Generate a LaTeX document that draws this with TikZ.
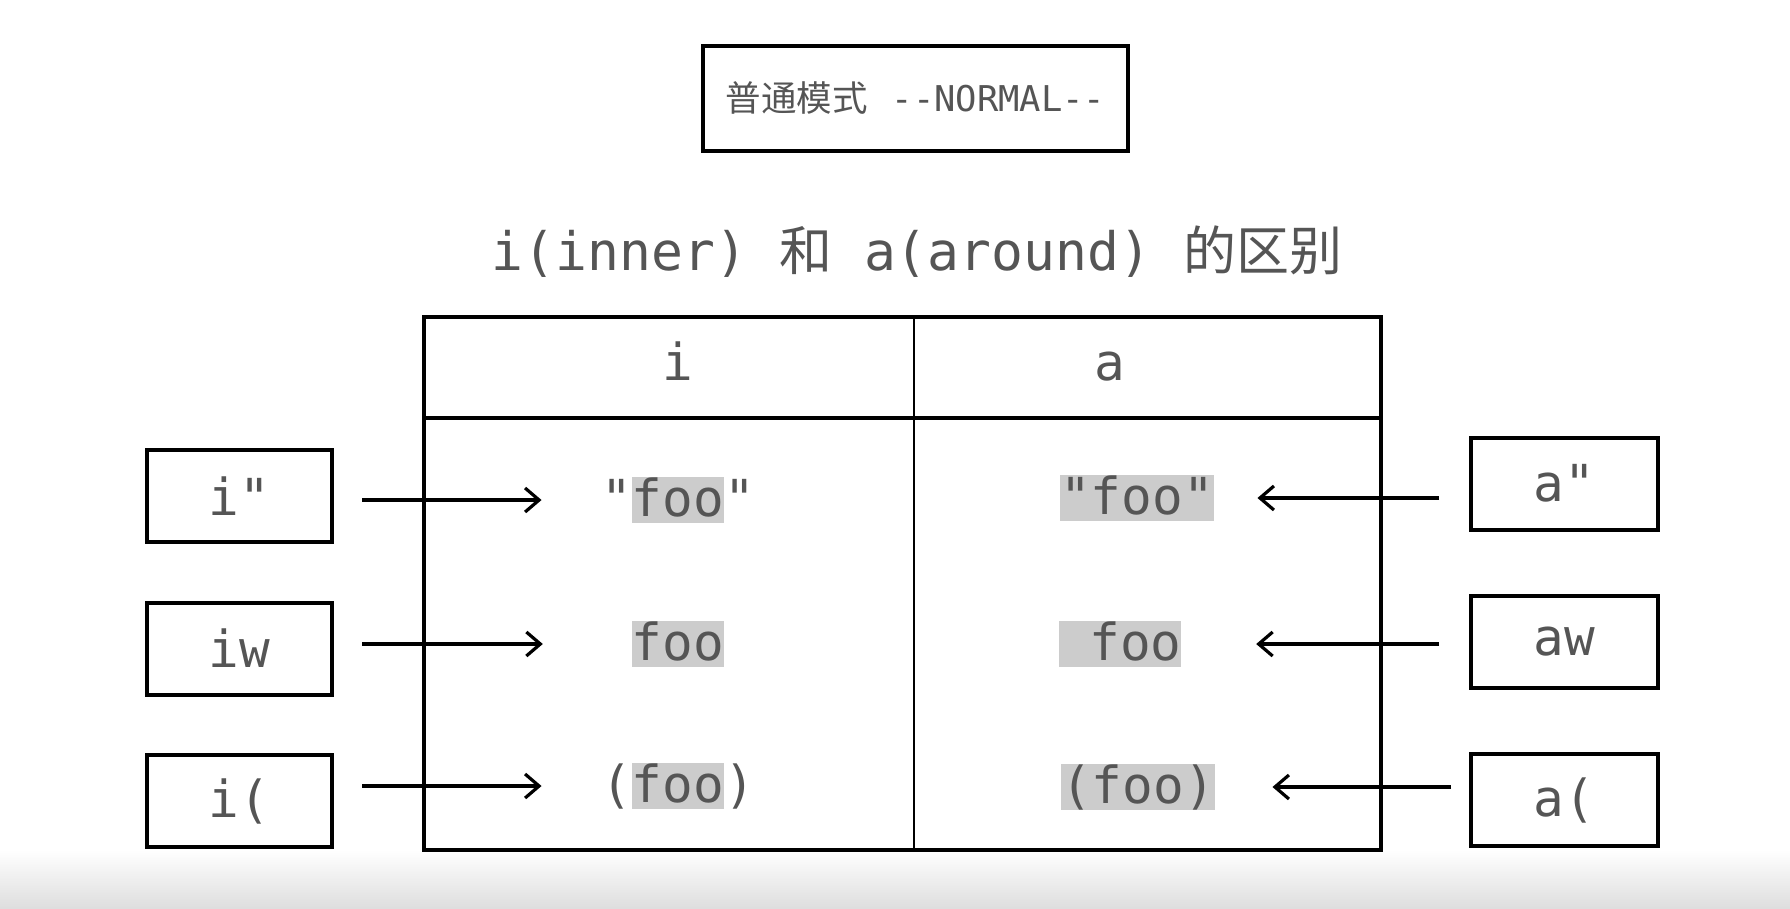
\documentclass[tikz,border=0pt]{standalone}
\usepackage{fontspec}
\setmonofont{DejaVu Sans Mono}
\newfontfamily\cjk{Noto Sans CJK SC}
\usepackage{xcolor}
\usetikzlibrary{arrows.meta, positioning}
\definecolor{inkgray}{HTML}{555555}
\definecolor{hlgray}{HTML}{CCCCCC}
\newcommand{\hlbox}[1]{{\setlength{\fboxsep}{0pt}\colorbox{hlgray}{\rule[-0.14em]{0pt}{0.92em}#1}}}

\begin{document}
\begin{tikzpicture}[x=1pt, y=-1pt,
        keybox/.style={rectangle, draw, line width=4pt, minimum width=#1, minimum height=92pt, inner sep=0pt, text=inkgray, font=\ttfamily\fontsize{51}{60}\selectfont},
        cell/.style={inner sep=0pt, minimum width=151pt, text=inkgray, font=\ttfamily\fontsize{51}{60}\selectfont},
        arrow/.style={-{Straight Barb[length=14pt, width=24pt]}, line width=3.2pt},
        frame/.style={line width=4pt}
    ]
        \useasboundingbox (0,0) rectangle (1790,908);
        \shade[top color=white, bottom color=black!13] (0,850) rectangle (1790,908);

        % Mode banner and title
        \node[rectangle, draw, line width=4pt, minimum width=425pt, minimum height=105pt, text=inkgray, font=\fontsize{35.5}{42}\selectfont] (mode) at (915.5, 98.5) {{\cjk 普通模式}\hspace{24pt}{\ttfamily -{}-NORMAL-{}-}};
        \node[anchor=base, text=inkgray, font=\ttfamily\fontsize{53}{62}\selectfont] (title) at (917, 270) {i(inner) {\cjk 和} a(around) {\cjk 的区别}};

        % Table
        \coordinate (tl) at (424, 317);
        \coordinate (br) at (1381, 850);
        \draw[frame] (tl) rectangle (br);
        \draw[frame] (424, 418) -- (1381, 418);
        \draw[line width=2.6pt] (914, 317) -- (914, 850);
        \node[cell, anchor=base] (headi) at (678, 380) {i};
        \node[cell, anchor=base] (heada) at (1110, 380) {a};

        % Inner cells
        \node[cell] (icell1) at (678, 500) {"\hlbox{foo}"};
        \node[cell] (icell2) at (678, 644) {\hlbox{foo}};
        \node[cell] (icell3) at (678, 786) {(\hlbox{foo})};

        % Around cells
        \node[cell] (acell1) at (1137, 498) {\hlbox{"foo"}};
        \node[cell] (acell2) at (1120, 644) {\hlbox{\ foo}};
        \node[cell] (acell3) at (1138, 787) {\hlbox{(foo)}};

        % Key boxes
        \node[keybox=185pt] (ibox1) at (239.5, 496) {i"};
        \node[keybox=185pt] (ibox2) at (239.5, 648.5) {iw};
        \node[keybox=185pt] (ibox3) at (239.5, 801) {i(};
        \node[keybox=187pt] (abox1) at (1564.5, 483.5) {a"};
        \node[keybox=187pt] (abox2) at (1564.5, 641.5) {aw};
        \node[keybox=187pt] (abox3) at (1564.5, 800) {a(};

        % Arrows
        \draw[arrow, shorten <=28pt, shorten >=59.5pt] (ibox1.east |- icell1.west) -- (icell1.west);
        \draw[arrow, shorten <=28pt, shorten >=59.5pt] (ibox2.east |- icell2.west) -- (icell2.west);
        \draw[arrow, shorten <=28pt, shorten >=59.5pt] (ibox3.east |- icell3.west) -- (icell3.west);
        \draw[arrow, shorten <=30pt, shorten >=43.5pt] (abox1.west |- acell1.east) -- (acell1.east);
        \draw[arrow, shorten <=30pt, shorten >=60.5pt] (abox2.west |- acell2.east) -- (acell2.east);
        \draw[arrow, shorten <=18pt, shorten >=57.5pt] (abox3.west |- acell3.east) -- (acell3.east);
    \end{tikzpicture}
\end{document}
